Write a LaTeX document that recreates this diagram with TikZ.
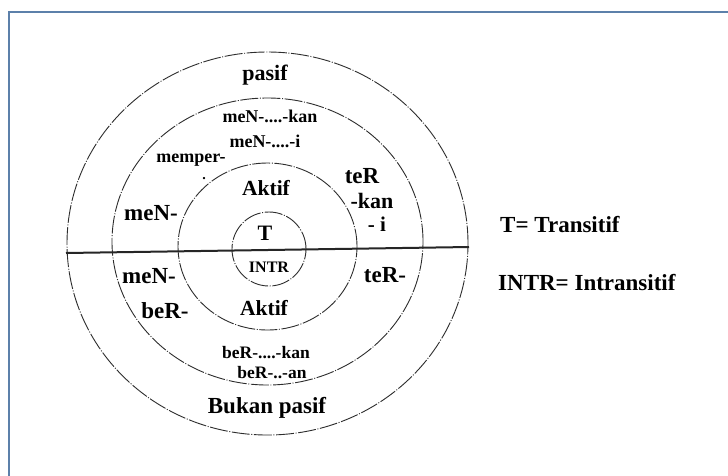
\documentclass[tikz,border=0pt]{standalone}
\usepackage{fontspec}
\setmainfont{Liberation Serif}
\usetikzlibrary{shapes.geometric}

\definecolor{framecol}{RGB}{92,128,170}
\definecolor{ringcol}{RGB}{45,45,45}

\tikzset{
  ring/.style={ellipse, draw=ringcol, line width=0.9pt, inner sep=0pt,
    dash pattern=on 18pt off 1.6pt on 1pt off 1.6pt},
  lbl/.style={inner sep=0pt, anchor=base, font=\fontsize{#1}{#1}\selectfont\bfseries},
  lbl/.default=22,
  legend/.style={inner sep=0pt, anchor=base west, font=\fontsize{23}{23}\selectfont\bfseries}
}

\begin{document}
\begin{tikzpicture}[x=1pt, y=-1pt]
  \useasboundingbox[fill=white] (0,0) rectangle (728,475);

  % frame (top and left edges)
  \draw[framecol, line width=2.2pt] (9,480) -- (9,12) -- (740,12);

  % concentric rings
  \node[ring, minimum width=401pt, minimum height=383pt] (outer)  at (267.5,243.5) {};
  \node[ring, minimum width=311pt, minimum height=287pt] (middle) at (267.5,241.5) {};
  \node[ring, minimum width=179pt, minimum height=167pt] (inner)  at (267.5,246.5) {};
  \node[ring, minimum width=74pt,  minimum height=74pt]  (core)   at (269,249) {};

  % dividing line
  \coordinate (divL) at (66,253);
  \coordinate (divR) at (469,247);
  \draw[line width=2pt, black!85] (divL) -- (divR);

  % upper half
  \node[lbl=22]   (pasif)  at (265,80)  {pasif};
  \node[lbl=18]   (menkan) at (270,122) {meN-....-kan};
  \node[lbl=18]   (meni)   at (265,147) {meN-....-i};
  \node[lbl=18]   (memper) at (191,162) {memper-};
  \node[lbl=14]   (dot)    at (204,179) {.};
  \node[lbl=21.5] (aktifA) at (266,195) {Aktif};
  \node[lbl=23]   (ter)    at (362,183) {teR};
  \node[lbl=22]   (kan)    at (372,208) {-kan};
  \node[lbl=21]   (i)      at (377,231) {- i};
  \node[lbl=23]   (menA)   at (151,220) {meN-};
  \node[lbl=22]   (T)      at (265,240) {T};

  % lower half
  \node[lbl=16]   (intr)   at (269,272) {INTR};
  \node[lbl=23]   (menB)   at (149,283) {meN-};
  \node[lbl=23]   (terB)   at (385,282) {teR-};
  \node[lbl=23]   (ber)    at (165,318) {beR-};
  \node[lbl=21.5] (aktifB) at (264,315) {Aktif};
  \node[lbl=17.5] (berkan) at (266,358) {beR-....-kan};
  \node[lbl=17.5] (beran)  at (272,378) {beR-..-an};
  \node[lbl=23]   (bukan)  at (267,413) {Bukan pasif};

  % legend
  \node[legend] (legT)    at (500,232) {T= Transitif};
  \node[legend] (legINTR) at (498,290) {INTR= Intransitif};
\end{tikzpicture}
\end{document}
